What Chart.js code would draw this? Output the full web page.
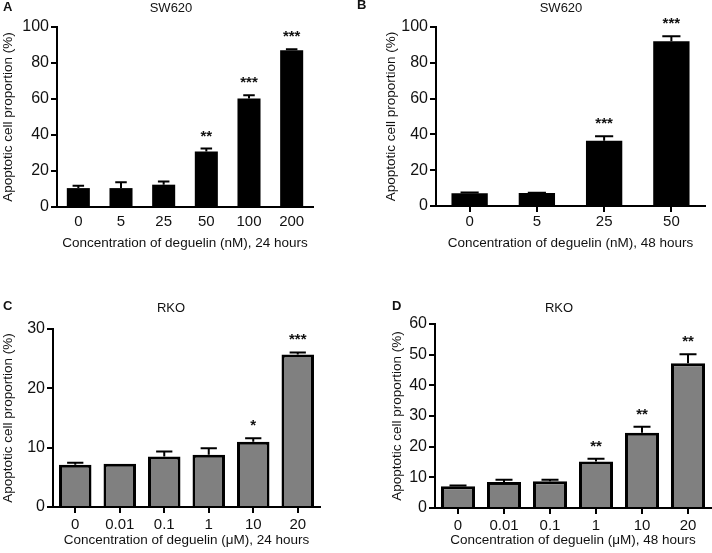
<!DOCTYPE html>
<html>
<head>
<meta charset="utf-8">
<script src="https://cdn.jsdelivr.net/npm/chart.js@4.4.0/dist/chart.umd.min.js"></script>
<style>
  body { margin: 0; background: #fff; }
  .panel { position: absolute; }
</style>
</head>
<body>
<div class="panel" style="left:0;top:0;width:356px;height:276px"><canvas id="chartA"></canvas></div>
<div class="panel" style="left:356px;top:0;width:356px;height:276px"><canvas id="chartB"></canvas></div>
<div class="panel" style="left:0;top:276px;width:356px;height:277px"><canvas id="chartC"></canvas></div>
<div class="panel" style="left:356px;top:276px;width:356px;height:277px"><canvas id="chartD"></canvas></div>
<script>
// A: SW620, 24 hours
const labelsA = ['0', '5', '25', '50', '100', '200'];
const valuesA = [10.5, 10.5, 12.4, 30.9, 60.3, 87.1];
const errorsA = [1.3, 3.2, 1.8, 1.6, 1.8, 0.5];
const starsA = ['', '', '', '**', '***', '***'];

// B: SW620, 48 hours
const labelsB = ['0', '5', '25', '50'];
const valuesB = [7.1, 7.2, 36.4, 92.0];
const errorsB = [0.4, 0.2, 2.6, 2.8];
const starsB = ['', '', '***', '***'];

// C: RKO, 24 hours
const labelsC = ['0', '0.01', '0.1', '1', '10', '20'];
const valuesC = [7.1, 7.3, 8.5, 8.8, 11.0, 25.7];
const errorsC = [0.35, 0, 0.85, 1.1, 0.6, 0.35];
const starsC = ['', '', '', '', '*', '***'];

// D: RKO, 48 hours
const labelsD = ['0', '0.01', '0.1', '1', '10', '20'];
const valuesD = [7.1, 8.5, 8.7, 15.2, 24.5, 47.2];
const errorsD = [0.2, 0.75, 0.55, 0.9, 2.0, 2.9];
const starsD = ['', '', '', '**', '**', '**'];

const FONT = "'Liberation Sans', Arial, sans-serif";
const yTitle = 'Apoptotic cell proportion (%)';

// error bars, significance stars, panel title and letter
const extras = {
  id: 'extras',
  afterDatasetsDraw(chart, args, opts) {
    const ctx = chart.ctx;
    const meta = chart.getDatasetMeta(0);
    const y = chart.scales.y;
    ctx.save();
    meta.data.forEach((bar, i) => {
      const v = opts.values[i];
      const top = v + opts.errors[i];
      const cap = bar.width * 0.5;
      const y0 = y.getPixelForValue(v);
      const y1 = y.getPixelForValue(top);
      ctx.strokeStyle = '#000';
      ctx.lineWidth = 2;
      if (opts.errors[i] > 0) {
        ctx.beginPath();
        ctx.moveTo(bar.x, y0);
        ctx.lineTo(bar.x, y1);
        ctx.moveTo(bar.x - cap / 2, y1);
        ctx.lineTo(bar.x + cap / 2, y1);
        ctx.stroke();
      }
      if (opts.stars[i]) {
        ctx.fillStyle = '#111';
        ctx.font = 'bold 15px ' + FONT;
        ctx.textAlign = 'center';
        ctx.textBaseline = 'alphabetic';
        ctx.fillText(opts.stars[i], bar.x, y1 - 8);
      }
    });
    ctx.fillStyle = '#111';
    ctx.textBaseline = 'middle';
    ctx.textAlign = 'center';
    ctx.font = '13px ' + FONT;
    ctx.fillText(opts.title, opts.titleX, opts.titleY);
    ctx.textAlign = 'left';
    ctx.font = 'bold 13px ' + FONT;
    ctx.fillText(opts.letter, opts.letterX, opts.letterY);
    ctx.restore();
  }
};

function makePanel(id, p) {
  return new Chart(document.getElementById(id), {
    type: 'bar',
    data: {
      labels: p.labels,
      datasets: [{
        data: p.values,
        backgroundColor: p.fill,
        borderColor: '#000',
        borderWidth: p.border,
        barPercentage: p.barPct,
        categoryPercentage: 1
      }]
    },
    options: {
      responsive: true,
      maintainAspectRatio: false,
      animation: false,
      events: [],
      layout: { padding: { left: p.padLeft, right: p.padRight, top: p.padTop, bottom: p.padBottom } },
      plugins: {
        legend: { display: false },
        tooltip: { enabled: false },
        extras: {
          values: p.values, errors: p.errors, stars: p.stars,
          title: p.title, titleX: p.titleX, titleY: p.titleY,
          letter: p.letter, letterX: p.letterX, letterY: p.letterY
        }
      },
      scales: {
        x: {
          afterFit: (s) => { s.height = p.xHeight; },
          border: { color: '#000', width: 2 },
          grid: { offset: false, drawOnChartArea: false, drawTicks: p.xTicks, tickLength: 6, color: '#000', lineWidth: 2 },
          ticks: { color: '#111', padding: p.xPad, font: { family: FONT, size: 15 } },
          title: { display: true, text: p.xTitle, color: '#111', padding: 0, font: { family: FONT, size: 13.5 } }
        },
        y: {
          min: 0, max: p.max,
          afterFit: (s) => { s.width = p.yWidth; },
          border: { color: '#000', width: 2 },
          grid: { drawOnChartArea: false, drawTicks: true, tickLength: 6, color: '#000', lineWidth: 2 },
          ticks: { stepSize: p.step, color: '#111', padding: 2, font: { family: FONT, size: 16 } },
          title: { display: true, text: yTitle, color: '#111', padding: 0, font: { family: FONT, size: 13.5 } }
        }
      }
    },
    plugins: [extras]
  });
}

makePanel('chartA', {
  labels: labelsA, values: valuesA, errors: errorsA, stars: starsA,
  fill: '#000', border: 0, barPct: 0.54, max: 100, step: 20,
  padLeft: 0, padRight: 43, padTop: 27, padBottom: 25,
  yWidth: 57, xHeight: 44, xTicks: false, xPad: 6,
  xTitle: 'Concentration of deguelin (nM), 24 hours',
  title: 'SW620', titleX: 171, titleY: 8, letter: 'A', letterX: 3, letterY: 7
});

makePanel('chartB', {
  labels: labelsB, values: valuesB, errors: errorsB, stars: starsB,
  fill: '#000', border: 0, barPct: 0.54, max: 100, step: 20,
  padLeft: 27, padRight: 7, padTop: 27, padBottom: 25,
  yWidth: 53, xHeight: 45, xTicks: true, xPad: 1,
  xTitle: 'Concentration of deguelin (nM), 48 hours',
  title: 'SW620', titleX: 205, titleY: 8, letter: 'B', letterX: 1, letterY: 5
});

makePanel('chartC', {
  labels: labelsC, values: valuesC, errors: errorsC, stars: starsC,
  fill: '#808080', border: 3, barPct: 0.73, max: 30, step: 10,
  padLeft: 0, padRight: 36, padTop: 53, padBottom: 5,
  yWidth: 53, xHeight: 41, xTicks: true, xPad: 3,
  xTitle: 'Concentration of deguelin (μM), 24 hours',
  title: 'RKO', titleX: 171, titleY: 32, letter: 'C', letterX: 3, letterY: 30
});

makePanel('chartD', {
  labels: labelsD, values: valuesD, errors: errorsD, stars: starsD,
  fill: '#808080', border: 3, barPct: 0.74, max: 60, step: 10,
  padLeft: 33, padRight: 1, padTop: 48, padBottom: 5,
  yWidth: 46, xHeight: 40, xTicks: true, xPad: 3,
  xTitle: 'Concentration of deguelin (μM), 48 hours',
  title: 'RKO', titleX: 203, titleY: 32, letter: 'D', letterX: 36, letterY: 30
});
</script>
</body>
</html>
